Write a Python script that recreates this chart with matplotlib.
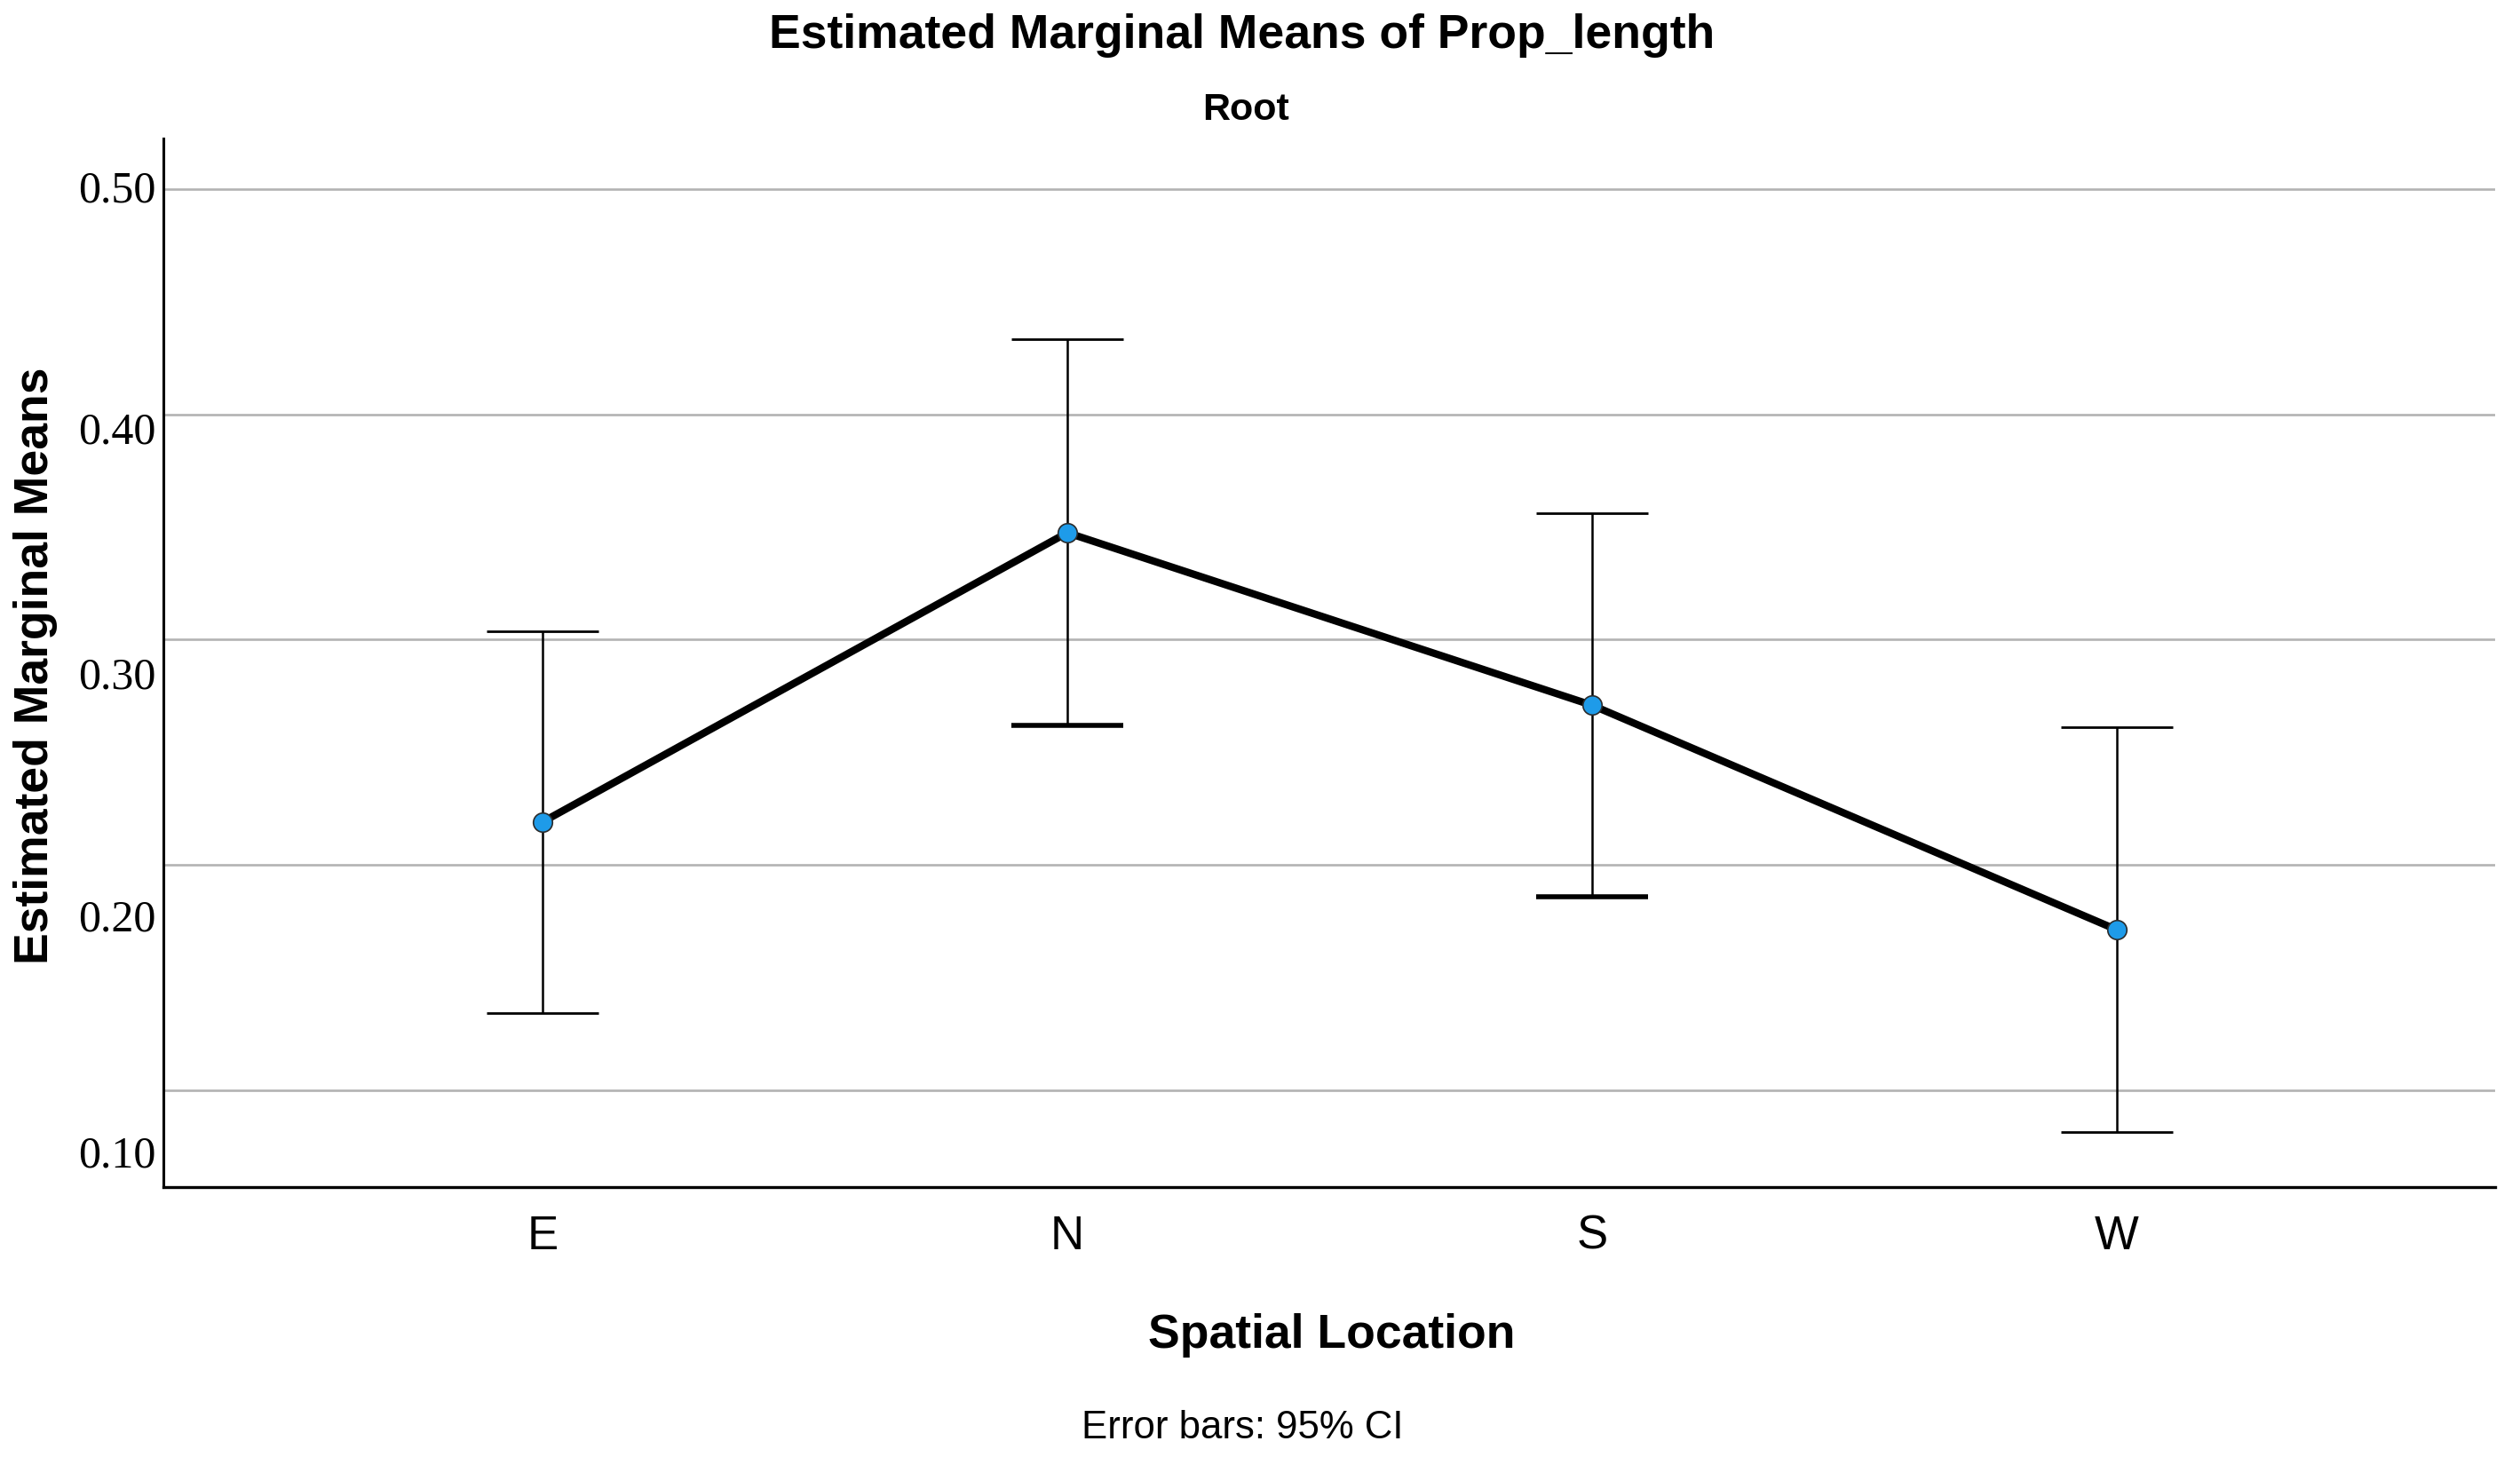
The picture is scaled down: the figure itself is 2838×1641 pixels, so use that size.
import matplotlib
matplotlib.use("Agg")
import matplotlib.pyplot as plt
import numpy as np

# values
categories = ['E', 'N', 'S', 'W']
means = [0.2191, 0.3475, 0.2709, 0.1712]
ci_low = [0.1343, 0.2618, 0.1860, 0.0816]
ci_high = [0.3039, 0.4335, 0.3563, 0.2613]

grid_values = [0.10, 0.20, 0.30, 0.40, 0.50]
tick_labels = ['0.10', '0.20', '0.30', '0.40', '0.50']
# SPSS draws the axis labels slightly off the gridlines
label_pos = [0.0730, 0.1776, 0.2852, 0.3940, 0.5012]

W, H = 2838, 1641
fig = plt.figure(figsize=(W / 100, H / 100), dpi=100)
ax = fig.add_axes([184 / W, 1 - 1337 / H, (2810 - 184) / W, (1337 - 156) / H])

sans = 'Liberation Sans'
serif = 'Liberation Serif'

x = np.arange(len(categories))

# gridlines
for g in grid_values:
    ax.axhline(g, color='#b3b3b3', lw=1.9, zorder=1)

# error bars with caps (lower caps of N and S are drawn heavier in the original)
cap_half = 0.106
low_cap_lw = [2.0, 4.0, 4.0, 2.0]
ax.vlines(x, ci_low, ci_high, color='black', lw=1.8, zorder=2)
ax.hlines(ci_high, x - cap_half, x + cap_half, color='black', lw=2.0, zorder=2)
for xi, lo, lw in zip(x, ci_low, low_cap_lw):
    ax.hlines(lo, xi - cap_half, xi + cap_half, color='black', lw=lw, zorder=2)

ax.plot(x, means, color='black', lw=6, marker='o', ms=15.5,
        mfc='#1e9be9', mec='#2b2b2b', mew=1.2, zorder=4,
        solid_joinstyle='round')

ax.set_xlim(-0.7225, 3.7208)
ax.set_ylim(0.0570, 0.5225)

ax.set_xticks(x)
ax.set_xticklabels(categories, fontsize=38, fontfamily=sans)
ax.set_yticks(label_pos)
ax.set_yticklabels(tick_labels, fontsize=36, fontfamily=serif)
ax.tick_params(axis='x', length=0, pad=22)
ax.tick_params(axis='y', length=0, pad=6)

for s in ['top', 'right']:
    ax.spines[s].set_visible(False)
ax.spines['left'].set_linewidth(2.2)
ax.spines['bottom'].set_linewidth(2.4)

fig.text(1399 / W, 1 - 40 / H, 'Estimated Marginal Means of Prop_length',
         ha='center', va='center', fontsize=38.5, fontweight='bold', fontfamily=sans)
fig.text(1403 / W, 1 - 124 / H, 'Root', ha='center', va='center',
         fontsize=31, fontweight='bold', fontfamily=sans)
fig.text(40 / W, 1 - 750 / H, 'Estimated Marginal Means', rotation=90,
         ha='center', va='center', fontsize=38.5, fontweight='bold', fontfamily=sans)
fig.text(1500 / W, 1 - 1518 / H, 'Spatial Location', ha='center', va='baseline',
         fontsize=38.5, fontweight='bold', fontfamily=sans)
fig.text(1399 / W, 1 - 1620 / H, 'Error bars: 95% CI', ha='center', va='baseline',
         fontsize=31.5, fontfamily=sans)

plt.savefig('out.png', dpi=100)
